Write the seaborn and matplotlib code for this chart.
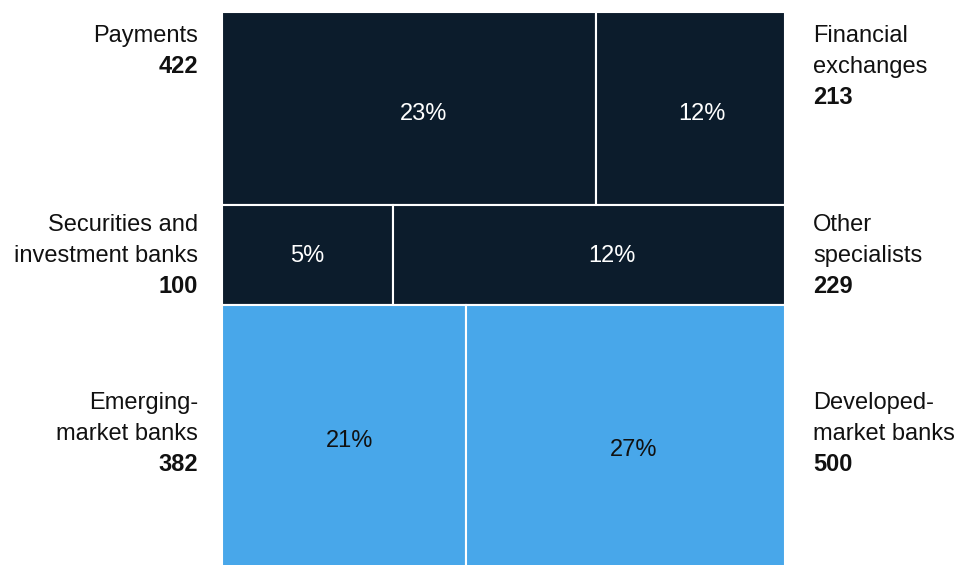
import matplotlib
matplotlib.use('Agg')
import matplotlib.pyplot as plt
import seaborn as sns
import numpy as np

# one row per pair of segments: left block and right block
left_names = ['Payments', 'Securities and\ninvestment banks', 'Emerging-\nmarket banks']
left_values = [422, 100, 382]
left_shares = ['23%', '5%', '21%']
right_names = ['Financial\nexchanges', 'Other\nspecialists', 'Developed-\nmarket banks']
right_values = [213, 229, 500]
right_shares = ['12%', '12%', '27%']

row_colors = ['#0c1c2c', '#0c1c2c', '#48a7ea']
share_colors = ['white', 'white', '#111111']
first_baseline_px = [30, 26, 104]   # from row top to first label baseline
line_px = 31
# nudges of the share labels from the block centres (pixels, x right / y down)
left_nudge = [(14, 6), (0, 1), (6, 2)]
right_nudge = [(11, 6), (23, 1), (8, 11)]

sns.set_theme(style='white')
plt.rcParams['font.family'] = ['Liberation Sans', 'DejaVu Sans']
FS = 17

fig = plt.figure(figsize=(9.59, 5.65), dpi=100)
ax = fig.add_axes([222 / 959, -8 / 565, 563 / 959, 561 / 565])

left_values = np.array(left_values)
right_values = np.array(right_values)
row_totals = left_values + right_values
row_tops = np.concatenate([[0], np.cumsum(row_totals)[:-1]])
grand_total = row_totals.sum()

for r in range(len(row_totals)):
    frac = left_values[r] / row_totals[r]
    ax.bar([0, frac], row_totals[r], width=[frac, 1 - frac], bottom=row_tops[r],
           align='edge', color=row_colors[r], edgecolor='white', linewidth=1.5)

    mid_y = row_tops[r] + row_totals[r] / 2
    for cx, txt, (nx, ny) in [(frac / 2, left_shares[r], left_nudge[r]),
                              (frac + (1 - frac) / 2, right_shares[r], right_nudge[r])]:
        ax.annotate(txt, xy=(cx, mid_y), xytext=(nx, -ny), textcoords='offset pixels',
                    ha='center', va='center', color=share_colors[r], fontsize=FS)

    # side labels: name lines then bold value
    for names, vals, x0, dx, ha in [
            (left_names, left_values, 0, -24, 'right'),
            (right_names, right_values, 1, 28, 'left')]:
        lines = names[r].split('\n')
        for i, line in enumerate(lines + [str(vals[r])]):
            bold = i == len(lines)
            ax.annotate(line, xy=(x0, row_tops[r]), xycoords='data',
                        xytext=(dx, -(first_baseline_px[r] + i * line_px)),
                        textcoords='offset pixels', ha=ha, va='baseline',
                        fontsize=FS, color='#111111',
                        fontweight='bold' if bold else 'normal',
                        annotation_clip=False)

ax.set_xlim(0, 1)
ax.set_ylim(grand_total, 0)
ax.axis('off')

fig.savefig('out.png', dpi=100)
